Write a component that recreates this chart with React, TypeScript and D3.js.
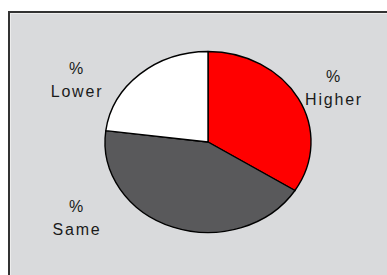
import React from 'react'
import * as d3 from 'd3'

const categories = ['Higher', 'Same', 'Lower']
const values = [34, 43, 23]
const colors = ['#ff0000', '#59595b', '#ffffff']

// label anchors (relative to the chart box)
const labelPos: Record<string, [number, number]> = {
  Higher: [334, 82],
  Same: [77, 212],
  Lower: [77, 74]
}

const App = () => {
  const width = 387
  const height = 275
  const cx = 208
  const cy = 142
  const rx = 103
  const ry = 90.5

  const pie = d3.pie<number>().sort(null).value(d => d)
  const arcs = pie(values)
  const arc = d3.arc<d3.PieArcDatum<number>>().innerRadius(0).outerRadius(rx)

  return (
    <svg width={width} height={height} style={{ position: 'absolute', left: 0, top: 0 }}
         fontFamily="Liberation Sans, Arial, sans-serif">
      <rect x={0} y={0} width={width} height={height} fill="#ffffff" />
      <rect x={9} y={12} width={width + 10} height={height + 10} fill="#d9dadc"
            stroke="#333" strokeWidth={2} />
      <rect x={10.5} y={13.5} width={width + 10} height={height + 10} fill="none"
            stroke="#ececec" strokeWidth={1} />
      <g transform={`translate(${cx},${cy}) scale(1,${ry / rx})`}>
        {arcs.map((a, i) => (
          <path key={categories[i]} d={arc(a) || ''} fill={colors[i]}
                stroke="#000" strokeWidth={1.4} vectorEffect="non-scaling-stroke"
                strokeLinejoin="round" />
        ))}
      </g>
      {categories.map(c => {
        const [x, y] = labelPos[c]
        return (
          <g key={c} fill="#1a1a1a" fontSize={16} textAnchor="middle" letterSpacing={1.8}>
            <text x={x} y={y}>%</text>
            <text x={x} y={y + 22.5}>{c}</text>
          </g>
        )
      })}
    </svg>
  )
}

export default App
